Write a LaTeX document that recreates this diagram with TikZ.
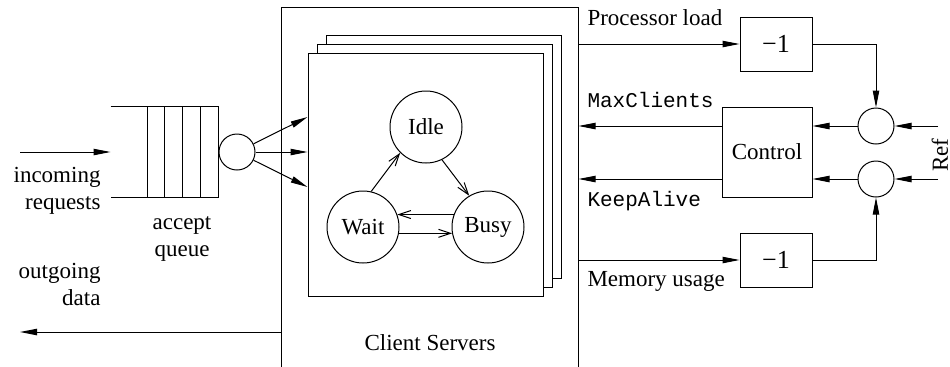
\documentclass[tikz,border=0pt]{standalone}
\usepackage{fontspec}
\setmainfont{Liberation Serif}
\setmonofont{Liberation Mono}
\usetikzlibrary{arrows.meta}

\tikzset{
    bigarrow/.style={-{Triangle[length=8.5pt,width=3.2pt]}},
    smallarrow/.style={-{Straight Barb[length=6pt,width=4pt]}},
    state/.style={draw,circle,minimum size=36pt,inner sep=0pt},
    summer/.style={draw,circle,minimum size=18pt,inner sep=0pt},
    gain/.style={draw,rectangle,minimum width=36pt,minimum height=27pt,inner sep=0pt},
    sheet/.style={draw,fill=white,minimum width=117.5pt,minimum height=121.5pt,inner sep=0pt},
    signal/.style={font=\fontsize{10.5}{12}\selectfont\ttfamily,inner sep=0pt},
}

\begin{document}
\begin{tikzpicture}[x=0.5pt,y=-0.5pt,line width=0.5pt,
        font=\fontsize{11.5}{13.5}\selectfont]
    \useasboundingbox (0,0) rectangle (950,366);

    % accept queue
    \node (queue) [minimum width=53.5pt,minimum height=45pt,inner sep=0pt] at (164.5,152) {};
    \draw (queue.north west) -- (queue.north east) -- (queue.south east) -- (queue.south west);
    \foreach \x in {147,164,182,200}
        \draw (\x,107) -- (\x,197);
    \node (disp) [summer] at (237,152) {};
    \coordinate (in) at (20,152);
    \coordinate (out) at (20,332);
    \draw[bigarrow] (in) -- (queue.west);

    \node (inlabel) [anchor=east,align=right,inner sep=0pt] at (101,191) {incoming\\requests};
    \node (outlabel) [anchor=east,align=right,inner sep=0pt] at (101,284) {outgoing\\data};
    \node (qlabel) [align=center,inner sep=0pt] at (182,238.5) {accept\\queue};

    % client servers
    \node (servers) [minimum width=148pt,minimum height=182pt,inner sep=0pt] at (430,190) {};
    \draw (servers.south west) |- (servers.north east) -- (servers.south east);
    \node (back) [sheet] at (444,156.5) {};
    \node (mid) [sheet] at (434.5,165.5) {};
    \node (front) [sheet] at (425.5,174.5) {};
    \node (srvlabel) at (430,343) {Client Servers};

    \foreach \y in {117,152,187}
        \draw[bigarrow] (disp) -- (front.west |- 0,\y);
    \draw[bigarrow] (servers.west |- out) -- (out);

    % states
    \node (idle) [state] at (426,127) {Idle};
    \node (wait) [state] at (363,227) {Wait};
    \node (busy) [state] at (488,227) {Busy};
    \draw[smallarrow] (wait.77) -- (idle.225);
    \draw[smallarrow] (idle.296) -- (busy.121);
    \draw[smallarrow] (busy.160) -- (wait.20);
    \draw[smallarrow] (wait.-10) -- (busy.190);

    % controller
    \node (cpu) [gain,font=\fontsize{13}{15}\selectfont] at (776,44) {−1};
    \node (mem) [gain,font=\fontsize{13}{15}\selectfont] at (776,260) {−1};
    \node (ctrl) [gain,minimum width=45pt,minimum height=45pt] at (767,152) {Control};
    \node (sum1) [summer] at (876,126) {};
    \node (sum2) [summer] at (876,179) {};
    \coordinate (ref1) at (938,126);
    \coordinate (ref2) at (938,179);

    \draw[bigarrow] (servers.east |- cpu) -- (cpu);
    \draw[bigarrow] (servers.east |- mem) -- (mem);
    \draw[bigarrow] (cpu) -| (sum1);
    \draw[bigarrow] (mem) -| (sum2);
    \draw[bigarrow] (ref1) -- (sum1);
    \draw[bigarrow] (ref2) -- (sum2);
    \draw[bigarrow] (sum1) -- (ctrl.east |- sum1);
    \draw[bigarrow] (sum2) -- (ctrl.east |- sum2);
    \draw[bigarrow] (ctrl.west |- sum1) -- (servers.east |- sum1);
    \draw[bigarrow] (ctrl.west |- sum2) -- (servers.east |- sum2);

    \node (cpulabel) [anchor=base west,inner sep=0pt] at (587,25) {Processor load};
    \node (memlabel) [anchor=base west,inner sep=0pt] at (587,286) {Memory usage};
    \node (maxlabel) [signal,anchor=base west] at (587,107) {MaxClients};
    \node (keeplabel) [signal,anchor=base west] at (587,206) {KeepAlive};
    \node (reflabel) [rotate=90,inner sep=0pt] at (940,155) {Ref};
\end{tikzpicture}
\end{document}
